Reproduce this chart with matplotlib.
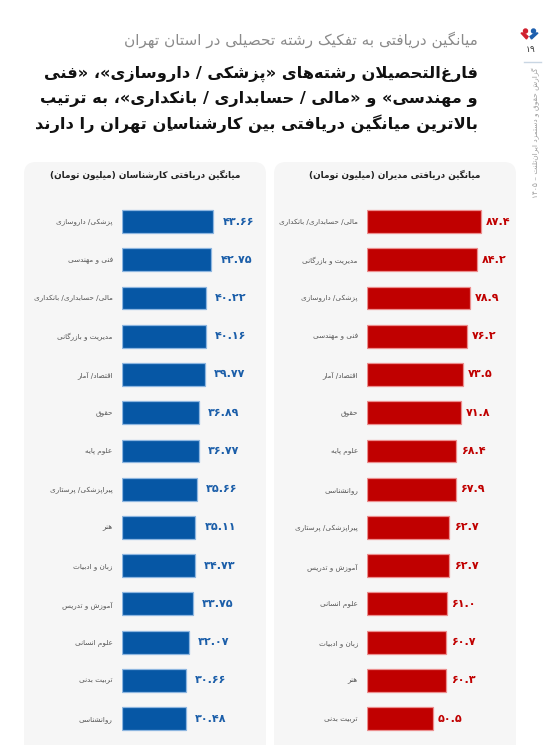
import matplotlib
matplotlib.use("Agg")
import matplotlib.pyplot as plt
from matplotlib.patches import FancyBboxPatch, Circle, Polygon

# داده‌ها
cats_kar = ["پزشکی/ داروسازی", "فنی و مهندسی", "مالی/ حسابداری/ بانکداری",
            "مدیریت و بازرگانی", "اقتصاد/ آمار", "حقوق", "علوم پایه",
            "پیراپزشکی/ پرستاری", "هنر", "زبان و ادبیات", "آموزش و تدریس",
            "علوم انسانی", "تربیت بدنی", "روانشناسی"]
vals_kar = [43.66, 42.75, 40.22, 40.16, 39.77, 36.89, 36.77,
            35.66, 35.11, 34.73, 33.75, 32.07, 30.66, 30.48]

cats_mod = ["مالی/ حسابداری/ بانکداری", "مدیریت و بازرگانی", "پزشکی/ داروسازی",
            "فنی و مهندسی", "اقتصاد/ آمار", "حقوق", "علوم پایه", "روانشناسی",
            "پیراپزشکی/ پرستاری", "آموزش و تدریس", "علوم انسانی",
            "زبان و ادبیات", "هنر", "تربیت بدنی"]
vals_mod = [87.4, 84.2, 78.9, 76.2, 73.5, 71.8, 68.4, 67.9,
            62.7, 62.7, 61.0, 60.7, 60.3, 50.5]

subtitle = "میانگین دریافتی به تفکیک رشته تحصیلی در استان تهران"
title_lines = ["فارغ\u200cالتحصیلان رشته\u200cهای «پزشکی / داروسازی»، «فنی",
               "و مهندسی» و «مالی / حسابداری / بانکداری»، به ترتیب",
               "بالاترین میانگین دریافتی بین کارشناسانِ تهران را دارند"]
title_mod = "میانگین دریافتی مدیران (میلیون تومان)"
title_kar = "میانگین دریافتی کارشناسان (میلیون تومان)"
side_text = "گزارش حقوق و دستمزد ایران\u200cتلنت – ۱۴۰۵"
page_no = "۱۹"

# --- شکل‌دهی ساده حروف فارسی (matplotlib خودش این کار را نمی‌کند) ---
# (اولین کد فرم, تعداد فرم‌ها): ترتیب فرم‌ها = تنها، پایانی، آغازی، میانی
FORMS = {
    "ء": (0xFE80, 1), "آ": (0xFE81, 2), "ئ": (0xFE89, 4), "ا": (0xFE8D, 2),
    "ب": (0xFE8F, 4), "پ": (0xFB56, 4), "ت": (0xFE95, 4), "ث": (0xFE99, 4),
    "ج": (0xFE9D, 4), "چ": (0xFB7A, 4), "ح": (0xFEA1, 4), "خ": (0xFEA5, 4),
    "د": (0xFEA9, 2), "ذ": (0xFEAB, 2), "ر": (0xFEAD, 2), "ز": (0xFEAF, 2),
    "ژ": (0xFB8A, 2), "س": (0xFEB1, 4), "ش": (0xFEB5, 4), "ص": (0xFEB9, 4),
    "ض": (0xFEBD, 4), "ط": (0xFEC1, 4), "ظ": (0xFEC5, 4), "ع": (0xFEC9, 4),
    "غ": (0xFECD, 4), "ف": (0xFED1, 4), "ق": (0xFED5, 4), "ک": (0xFB8E, 4),
    "گ": (0xFB92, 4), "ل": (0xFEDD, 4), "م": (0xFEE1, 4), "ن": (0xFEE5, 4),
    "ه": (0xFEE9, 4), "و": (0xFEED, 2), "ی": (0xFBFC, 4),
}
MARKS = set("\u064B\u064C\u064D\u064E\u064F\u0650\u0651\u0652")
DIGITS = set("0123456789۰۱۲۳۴۵۶۷۸۹")
MIRROR = {"(": ")", ")": "(", "«": "»", "»": "«"}


def dual(c):
    return c in FORMS and FORMS[c][1] == 4


def fa(text):
    base = [i for i, c in enumerate(text) if c not in MARKS]
    clusters = []
    k = 0
    while k < len(base):
        i = base[k]
        c = text[i]
        prev = text[base[k - 1]] if k > 0 else ""
        nxt = text[base[k + 1]] if k + 1 < len(base) else ""
        end = base[k + 1] if k + 1 < len(base) else len(text)
        if c == "ل" and nxt in ("ا", "آ"):
            code = 0xFEFB if nxt == "ا" else 0xFEF5
            g = chr(code + (1 if dual(prev) else 0))
            end = base[k + 2] if k + 2 < len(base) else len(text)
            clusters.append(g + text[base[k + 1] + 1:end])
            k += 2
            continue
        marks = text[i + 1:end]
        if c == "\u200c":
            k += 1
            continue
        if c in FORMS:
            first, n = FORMS[c]
            p = dual(prev)
            nx = n == 4 and nxt in FORMS and FORMS[nxt][1] >= 2
            if n == 1:
                idx = 0
            elif p and nx:
                idx = 3
            elif p:
                idx = 1
            elif nx:
                idx = 2
            else:
                idx = 0
            clusters.append(chr(first + idx) + marks)
        else:
            clusters.append(c + marks)
        k += 1
    # ترتیب نمایشی: راست به چپ، ولی اعداد چپ به راست
    segs = []
    for j, cl in enumerate(clusters):
        is_num = cl in DIGITS or (cl == "." and 0 < j < len(clusters) - 1
                                  and clusters[j - 1] in DIGITS
                                  and clusters[j + 1] in DIGITS)
        if is_num and segs and segs[-1][0]:
            segs[-1][1].append(cl)
        else:
            segs.append((is_num, [MIRROR.get(cl, cl)] if not is_num else [cl]))
    out = []
    for is_num, cls in reversed(segs):
        out.extend(cls if is_num else reversed(cls))
    return "".join(out)


def fa_num(v, dec):
    return f"{v:.{dec}f}".translate(str.maketrans("0123456789", "۰۱۲۳۴۵۶۷۸۹"))


plt.rcParams["font.family"] = ["DejaVu Sans"]

W, H = 554, 745
fig = plt.figure(figsize=(W / 100, H / 100), dpi=100)
fig.patch.set_facecolor("white")
renderer = fig.canvas.get_renderer()

page = fig.add_axes([0, 0, 1, 1])
page.set_xlim(0, W)
page.set_ylim(H, 0)
page.axis("off")


def px_axes(x0, y0, x1, y1):
    a = fig.add_axes([x0 / W, 1 - y1 / H, (x1 - x0) / W, (y1 - y0) / H])
    a.set_facecolor("none")
    return a


# پنل‌ها
for x0 in (24, 274):
    page.add_patch(FancyBboxPatch((x0, 162), 242, 600,
                                  boxstyle="round,pad=0,rounding_size=12",
                                  fc="#f6f6f6", ec="none"))

# سربرگ
page.text(478, 40, fa(subtitle), ha="right", va="center", fontsize=11,
          color="#8a8a8a")
title_texts = [page.text(478, y, fa(ln), ha="right", va="center",
                         fontsize=13.5, fontweight="bold", color="#111111")
               for ln, y in zip(title_lines, (74, 99, 124))]
# اندازه قلم عنوان را طوری کوچک کن که عرض خطوط در ۴۴۲ پیکسل جا شود
widest = max(t.get_window_extent(renderer).width for t in title_texts)
for t in title_texts:
    t.set_fontsize(13.5 * 442 / widest)

# لوگو، شماره صفحه و متن کناری
page.add_patch(Circle((525.5, 31), 2.0, color="#d0202e"))
page.add_patch(Polygon([(521, 33), (524, 33), (528, 36.5), (526.5, 39)],
                       closed=True, color="#d0202e"))
page.add_patch(Circle((533.5, 31), 2.0, color="#1d5fae"))
page.add_patch(Polygon([(538, 33), (535, 33), (530, 36.5), (531.5, 39)],
                       closed=True, color="#1d5fae"))
page.text(531, 50, fa(page_no), ha="center", va="center", fontsize=6.5,
          color="#333333")
page.plot([524, 541], [62, 62], color="#c9d6e3", lw=1)
page.text(536, 68, fa(side_text), rotation=90, ha="center", va="top",
          fontsize=5.3, color="#9a9a9a")

# عنوان پنل‌ها
page.text(395, 175, fa(title_mod), ha="center", va="center", fontsize=6.4,
          fontweight="bold", color="#222222")
page.text(145, 175, fa(title_kar), ha="center", va="center", fontsize=6.4,
          fontweight="bold", color="#222222")


def draw(ax, cats, vals, xmax, color, edge, vcolor, dec, pad):
    n = len(cats)
    bars = ax.barh(range(n), vals, height=0.6, color=color, edgecolor=edge,
                   linewidth=0.9)
    ax.set_xlim(0, xmax)
    ax.set_ylim(n - 0.5, -0.5)
    ax.set_yticks(range(n), labels=[fa(c) for c in cats])
    ax.tick_params(axis="y", length=0, pad=6.5, labelsize=5.2,
                   labelcolor="#555555")
    ax.set_xticks([])
    for s in ax.spines.values():
        s.set_visible(False)
    ax.bar_label(bars, labels=[fa_num(v, dec) for v in vals], padding=pad,
                 fontsize=8, fontweight="bold", color=vcolor)


ax_mod = px_axes(367, 202.4, 516, 737.8)
draw(ax_mod, cats_mod, vals_mod, 114.1, "#c00000", "#ec8e8e", "#c00000", 1, 3.5)

ax_kar = px_axes(121.7, 202.4, 266, 737.8)
draw(ax_kar, cats_kar, vals_kar, 68.7, "#0657a5", "#8db6e0", "#1b5ea9", 2, 6.5)

fig.savefig("out.png", dpi=100)
